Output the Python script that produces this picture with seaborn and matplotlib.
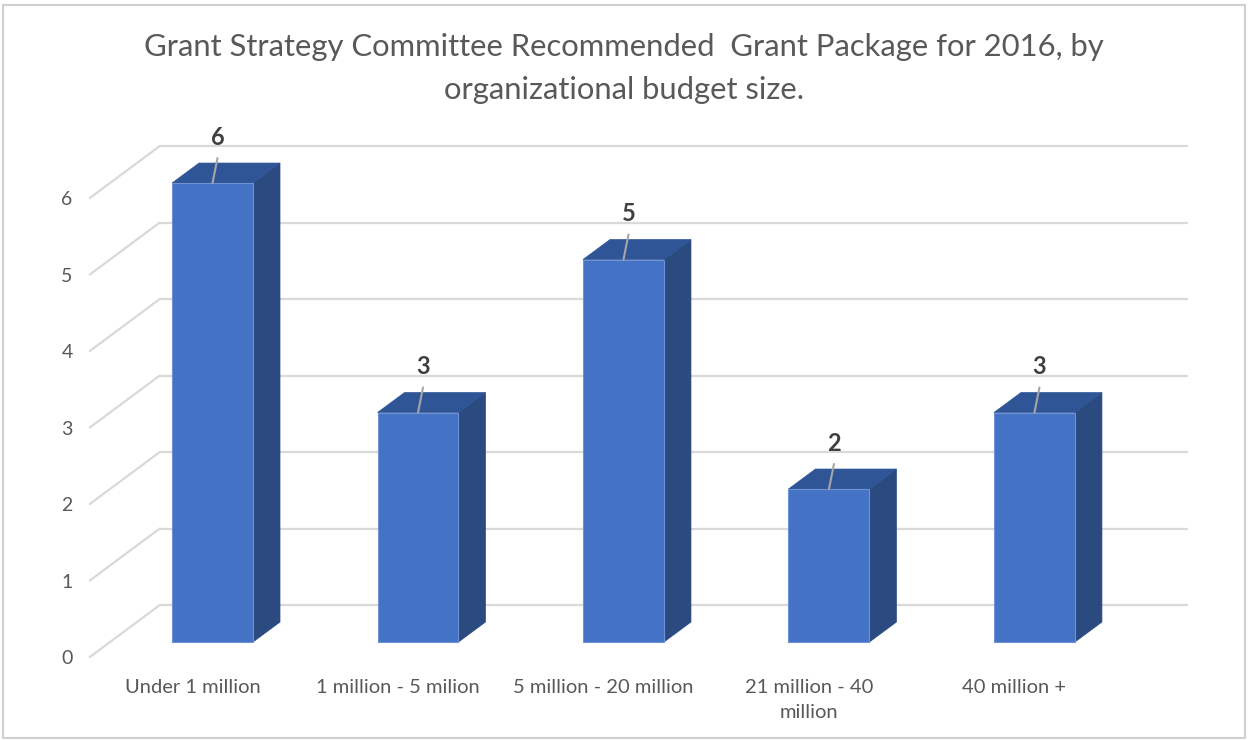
import numpy as np
import pandas as pd
import matplotlib
matplotlib.use("Agg")
import matplotlib.pyplot as plt
import matplotlib.transforms as mtransforms
from matplotlib.patches import Polygon, Rectangle
import seaborn as sns

categories = ["Under 1 million", "1 million - 5 milion", "5 million - 20 million",
              "21 million - 40\nmillion", "40 million +"]
values = [6, 3, 5, 2, 3]
y_ticks = [0, 1, 2, 3, 4, 5, 6]
title_line1 = "Grant Strategy Committee Recommended  Grant Package for 2016, by"
title_line2 = "organizational budget size."

sns.set_style("white")
plt.rcParams["font.family"] = ["Lato", "DejaVu Sans"]

W, H, DPI = 1248, 740, 100
fig = plt.figure(figsize=(W / DPI, H / DPI), dpi=DPI)
fig.patch.set_facecolor("white")
ax = fig.add_axes([88 / W, 1 - 660 / H, (1190 - 88) / W, (660 - 120) / H])

FRONT = "#4472C4"
SIDE = "#2A4A80"
TOP = "#2F5597"
GRID = "#D9D9D9"
TEXT = "#595959"

df = pd.DataFrame({"category": categories, "value": values})
sns.barplot(data=df, x="category", y="value", color=FRONT, width=0.394,
            saturation=1, ax=ax, zorder=3, edgecolor="#6F93D6", linewidth=0.8)

ax.set_xlim(-0.606, 4.757)
ax.set_ylim(-0.235, 6.824)
for s in ax.spines.values():
    s.set_visible(False)
ax.grid(False)
ax.set_xlabel("")
ax.set_ylabel("")
ax.patch.set_alpha(0)


def shifted(dx_px, dy_px):
    return ax.transData + mtransforms.ScaledTranslation(dx_px / DPI, dy_px / DPI, fig.dpi_scale_trans)

BACK = (50, 37)
FRONTEDGE = (-20, -15)
DEPTH = (27, 20)

# back wall gridlines and left wall diagonals
back_tr = shifted(*BACK)
for v in y_ticks:
    ax.plot([-0.5, 4.5], [v, v], color=GRID, lw=1.6, transform=back_tr, zorder=1, clip_on=False)
    p = ax.transData.transform((-0.5, v))
    xs = [p[0] + FRONTEDGE[0], p[0] + BACK[0]]
    ys = [p[1] + FRONTEDGE[1], p[1] + BACK[1]]
    ax.plot(xs, ys, color=GRID, lw=1.6, transform=mtransforms.IdentityTransform(), zorder=1, clip_on=False)

# 3D side and top faces derived from the bars
p0 = ax.transData.transform((0, 0))
p1 = ax.transData.transform((1, 1))
sx, sy = p1[0] - p0[0], p1[1] - p0[1]
ddx, ddy = DEPTH[0] / sx, DEPTH[1] / sy
for bar in list(ax.patches):
    x0, w, h = bar.get_x(), bar.get_width(), bar.get_height()
    side = Polygon([(x0 + w, 0), (x0 + w, h), (x0 + w + ddx, h + ddy), (x0 + w + ddx, ddy)],
                   closed=True, facecolor=SIDE, edgecolor=SIDE, lw=0.5, zorder=2.5)
    top = Polygon([(x0, h), (x0 + w, h), (x0 + w + ddx, h + ddy), (x0 + ddx, h + ddy)],
                  closed=True, facecolor=TOP, edgecolor=TOP, lw=0.5, zorder=2.5)
    ax.add_patch(side)
    ax.add_patch(top)
    xc = x0 + w / 2
    ax.plot([xc, xc + 5 / sx], [h, h + 25 / sy], color="#A6A6A6", lw=1.5, zorder=4, clip_on=False)
    ax.text(xc + 5 / sx, h + 46 / sy, f"{h:g}", ha="center", va="center", fontsize=17,
            fontweight="bold", color="#404040", zorder=5)

# ticks
ax.set_yticks(y_ticks)
ax.set_yticklabels([str(v) for v in y_ticks])
ax.tick_params(axis="y", length=0, pad=11, labelsize=14, labelcolor=TEXT)
off_y = mtransforms.ScaledTranslation(0, -15 / DPI, fig.dpi_scale_trans)
for lab in ax.get_yticklabels():
    lab.set_transform(lab.get_transform() + off_y)

ax.set_xticks(np.arange(len(categories)) - 20 / sx)
ax.set_xticklabels(categories, linespacing=1.55)
ax.tick_params(axis="x", length=0, pad=14, labelsize=14.5, labelcolor=TEXT)

# title
fig.text(0.5, 1 - 47 / H, title_line1, ha="center", va="center", fontsize=22.3, color=TEXT)
fig.text(0.5, 1 - 90 / H, title_line2, ha="center", va="center", fontsize=22.3, color=TEXT)

# chart border
fig.add_artist(Rectangle((3 / W, 2 / H), (1242) / W, (733) / H, transform=fig.transFigure,
                         fill=False, edgecolor="#D0D0D0", lw=1.5))

fig.savefig("out.png", dpi=DPI, facecolor="white")
